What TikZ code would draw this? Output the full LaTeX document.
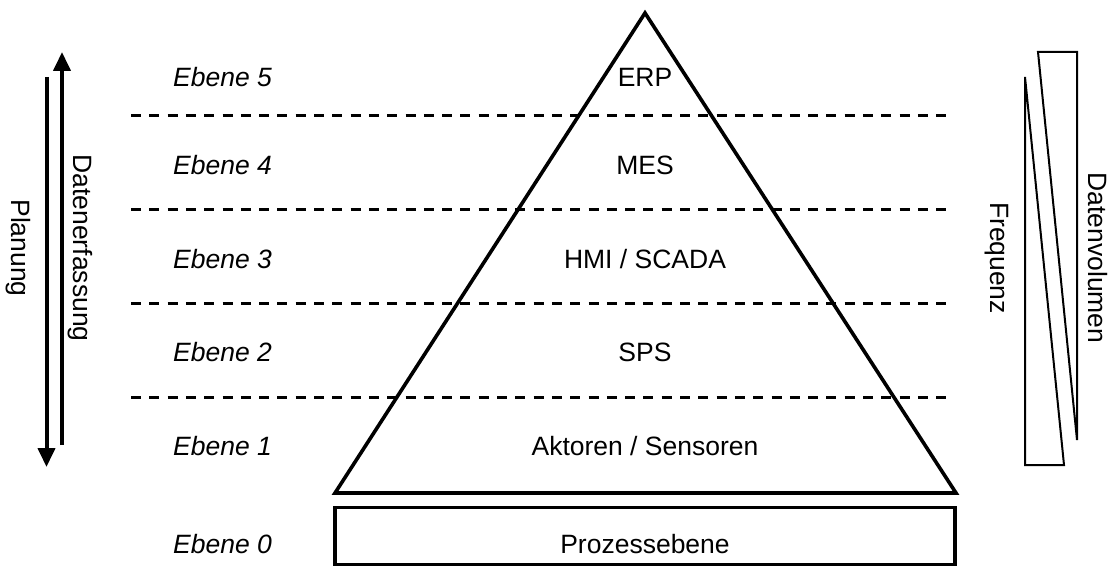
\documentclass[tikz,border=0pt]{standalone}
\usepackage{fontspec}
\setmainfont{Liberation Sans}
\usetikzlibrary{arrows.meta}
\begin{document}
\begin{tikzpicture}[x=1pt,y=-1pt,
  lbl/.style={font=\fontsize{26.5}{30}\selectfont, inner sep=0pt, anchor=base},
  lvl/.style={lbl, font=\fontsize{26.5}{30}\selectfont\itshape},
  vtxt/.style={lbl, rotate=-90},
  sep/.style={line width=2.2pt, dash pattern=on 10pt off 8.3pt},
  thick line/.style={line width=3.6pt, line join=miter},
  bigarrow/.style={line width=4pt, -{Triangle[length=19pt,width=17pt]}},
  wedge/.style={line width=2pt, line join=miter}]
\useasboundingbox (0,0) rectangle (1110,572);
% separators
\foreach \y in {115.5,209.5,303.5,397.5}
  \draw[sep] (131,\y) -- (948,\y);
% pyramid
\coordinate (apex) at (645,13);
\coordinate (bl) at (335,493);
\coordinate (br) at (956,493);
\draw[thick line] (apex) -- (bl) -- (br) -- cycle;
% process box
\node[draw, line width=3.6pt, minimum width=620pt, minimum height=57pt, inner sep=0pt] (proc) at (645,536) {};
\node[lbl] (proctxt) at (645,553) {Prozessebene};
% level texts
\node[lbl] (erp) at (645,87) {ERP};
\node[lbl] (mes) at (645,175) {MES};
\node[lbl] (hmi) at (645,268) {HMI / SCADA};
\node[lbl] (sps) at (645,361) {SPS};
\node[lbl] (akt) at (645,455) {Aktoren / Sensoren};
\node[lvl] (e5) at (222.5,87) {Ebene 5};
\node[lvl] (e4) at (222.5,175) {Ebene 4};
\node[lvl] (e3) at (222.5,268) {Ebene 3};
\node[lvl] (e2) at (222.5,361) {Ebene 2};
\node[lvl] (e1) at (222.5,455) {Ebene 1};
\node[lvl] (e0) at (222.5,553) {Ebene 0};
% left arrows
\coordinate (pTop) at (46.5,77);
\coordinate (pBot) at (46.5,467);
\coordinate (dBot) at (62,445);
\coordinate (dTop) at (62,52);
\draw[bigarrow] (pTop) -- (pBot);
\draw[bigarrow] (dBot) -- (dTop);
\node[vtxt] (plan) at (12,248) {Planung};
\node[vtxt] (dat) at (73,248) {Datenerfassung};
% right wedges
\coordinate (v1) at (1038,52);
\coordinate (v2) at (1077,52);
\coordinate (v3) at (1077,440);
\draw[wedge] (v3) -- (v2) -- (v1) -- cycle;
\coordinate (f1) at (1025,77);
\coordinate (f2) at (1025,465);
\coordinate (f3) at (1064,465);
\draw[wedge] (f1) -- (f2) -- (f3) -- cycle;
\node[vtxt] (freq) at (990,258) {Frequenz};
\node[vtxt] (vol) at (1088,258) {Datenvolumen};
\end{tikzpicture}
\end{document}
